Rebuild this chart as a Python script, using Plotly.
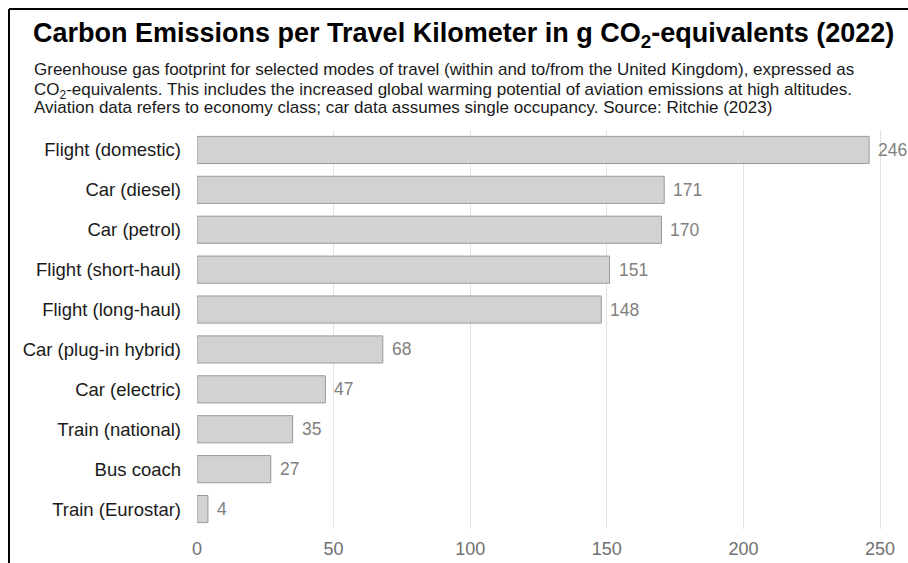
import plotly.graph_objects as go

# Emissions per travel kilometre, g CO2-equivalents (UK, 2022)
modes = [
    "Flight (domestic)", "Car (diesel)", "Car (petrol)", "Flight (short-haul)",
    "Flight (long-haul)", "Car (plug-in hybrid)", "Car (electric)",
    "Train (national)", "Bus coach", "Train (Eurostar)",
]
emissions = [246, 171, 170, 151, 148, 68, 47, 35, 27, 4]
x_ticks = [0, 50, 100, 150, 200, 250]

subtitle_lines = [
    "Greenhouse gas footprint for selected modes of travel (within and to/from the United Kingdom), expressed as",
    "CO<sub>2</sub>-equivalents. This includes the increased global warming potential of aviation emissions at high altitudes.",
    "Aviation data refers to economy class; car data assumes single occupancy. Source: Ritchie (2023)",
]
# vertical anchor (px) of each subtitle line; the subscript line sits a bit lower
subtitle_mids = [69, 90.5, 107.5]

W, H = 908, 563
ML, MR, MT, MB = 197, 11, 130, 34
PW, PH = W - ML - MR, H - MT - MB

FONT = "Liberation Sans, Arial, sans-serif"

fig = go.Figure(
    go.Bar(
        x=emissions,
        y=modes,
        orientation="h",
        width=0.68,
        marker=dict(color="#d3d2d3", line=dict(color="#9a9a9a", width=1)),
        hoverinfo="skip",
    )
)

# Value labels just right of each bar end
for m, v in zip(modes, emissions):
    fig.add_annotation(
        x=v, y=m, xref="x", yref="y", text=str(v), showarrow=False,
        xanchor="left", yanchor="middle", xshift=7,
        font=dict(family=FONT, size=17.5, color="#808080"),
    )


def px_x(p):
    return (p - ML) / PW


def px_y(p):
    return 1 - (p - MT) / PH


# Frame lines along the top and left edges
fig.add_shape(type="line", xref="paper", yref="paper",
              x0=px_x(9), x1=px_x(W + 5), y0=px_y(9), y1=px_y(9),
              line=dict(color="black", width=2))
fig.add_shape(type="line", xref="paper", yref="paper",
              x0=px_x(9), x1=px_x(9), y0=px_y(9), y1=px_y(H + 5),
              line=dict(color="black", width=2))

fig.add_annotation(
    xref="paper", yref="paper", x=px_x(31), y=px_y(35),
    xanchor="left", yanchor="middle", showarrow=False,
    text="<b>Carbon Emissions per Travel Kilometer in g CO<sub>2</sub>-equivalents (2022)</b>",
    font=dict(family=FONT, size=27, color="black"),
)
for line, mid in zip(subtitle_lines, subtitle_mids):
    fig.add_annotation(
        xref="paper", yref="paper", x=px_x(32), y=px_y(mid),
        xanchor="left", yanchor="middle", showarrow=False, align="left",
        text=line,
        font=dict(family=FONT, size=17, color="#1a1a1a"),
    )

fig.update_layout(
    width=W, height=H,
    margin=dict(l=ML, r=MR, t=MT, b=MB, pad=0),
    paper_bgcolor="white", plot_bgcolor="white",
    showlegend=False,
    font=dict(family=FONT),
)
fig.update_xaxes(
    range=[0, 256.2], tickvals=x_ticks, automargin=False,
    showgrid=True, gridcolor="#e2e2e2", gridwidth=1,
    zeroline=False, showline=False,
    ticks="outside", ticklen=3, tickcolor="rgba(0,0,0,0)",
    tickfont=dict(family=FONT, size=18, color="#707070"),
)
fig.update_yaxes(
    categoryorder="array", categoryarray=modes[::-1], automargin=False,
    range=[-0.5, 9.5], showgrid=False, zeroline=False, showline=False,
    ticks="", ticklabelstandoff=15,
    tickfont=dict(family=FONT, size=18.5, color="#1a1a1a"),
)

fig.write_html("out.html")
